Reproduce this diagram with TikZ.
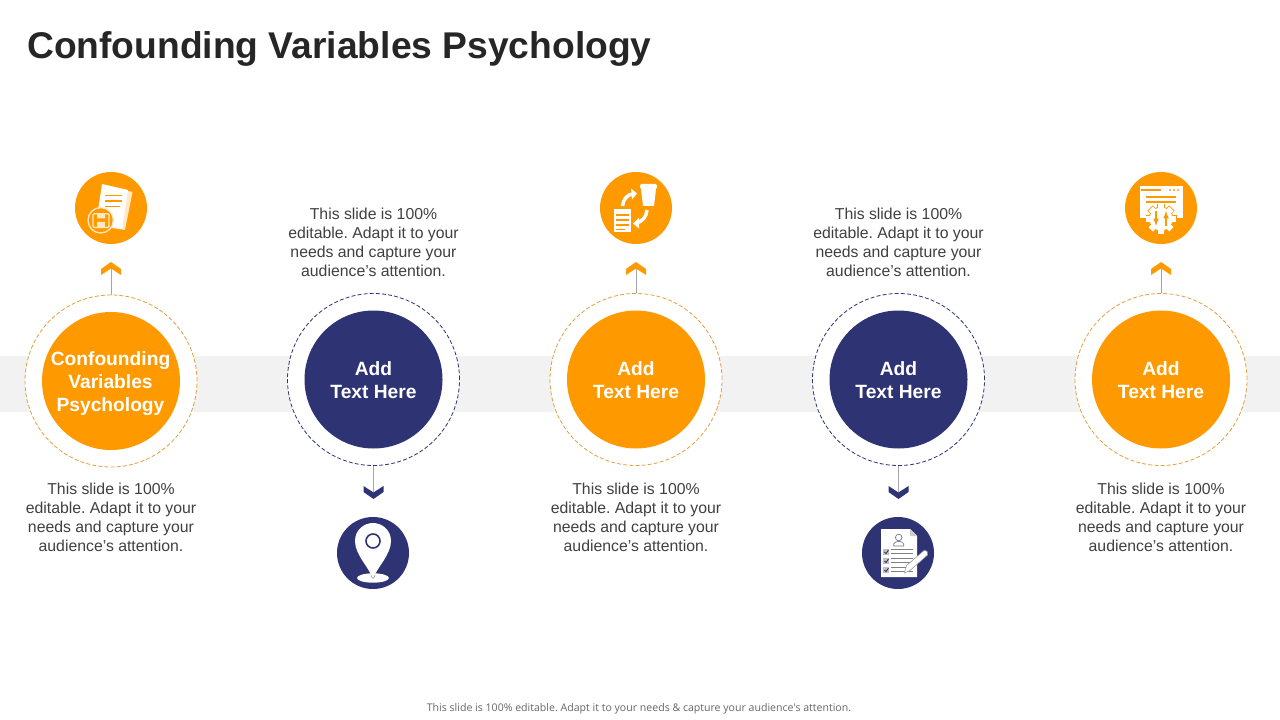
\documentclass[tikz,border=0pt]{standalone}
\usepackage{fontspec}
\setmainfont{Liberation Sans}
\newfontfamily\footfont{Open Sans}
\frenchspacing
\definecolor{org}{HTML}{FF9900}
\definecolor{nav}{HTML}{2E3374}
\definecolor{band}{HTML}{F2F2F2}
\definecolor{txt}{HTML}{404040}
\definecolor{pale}{HTML}{FFE9C4}
\definecolor{dashorg}{HTML}{E0A040}
\tikzset{
  px/.style={x=0.75pt,y=-0.75pt},
  maincirc/.style={circle,minimum size=103.5pt,inner sep=0pt},
  lab/.style={text=white,align=center,inner sep=0pt,font=\fontsize{14.4}{17}\selectfont\bfseries},
  ringorg/.style={circle,minimum size=129pt,inner sep=0pt,fill=white,draw=dashorg,dash pattern=on 3pt off 1.6pt,line width=0.6pt},
  ringnav/.style={circle,minimum size=129pt,inner sep=0pt,fill=white,draw=nav,dash pattern=on 3pt off 1.6pt,line width=0.6pt},
  iconcirc/.style={circle,minimum size=54pt,inner sep=0pt},
  body/.style={text=txt,align=center,font=\fontsize{11.85}{14.25}\selectfont,inner sep=0pt},
  stem/.style={draw=black!35,line width=0.7pt},
}
\newcommand{\chevup}[3]{\fill[#3] (#1,#2) -- ++(10,7) -- ++(0,6) -- ++(-10,-6.5) -- ++(-10,6.5) -- ++(0,-6) -- cycle;}
\newcommand{\chevdown}[3]{\fill[#3] (#1,#2) -- ++(10,-7) -- ++(0,-6) -- ++(-10,6.5) -- ++(-10,-6.5) -- ++(0,6) -- cycle;}
\begin{document}
\begin{tikzpicture}[px]
\useasboundingbox (0,0) rectangle (1280,720);
\fill[white] (0,0) rectangle (1280,720);
\fill[band] (0,356) rectangle (1280,412);
\node[anchor=west,inner sep=0pt,text=black!85,font=\fontsize{27.9}{32}\selectfont\bfseries] (title) at (27,49) {Confounding Variables Psychology};

% rings and circles
\node[ringorg] (r1) at (111,381) {};
\node[ringnav] (r2) at (373.5,379.5) {};
\node[ringorg] (r3) at (636,379.5) {};
\node[ringnav] (r4) at (898.5,379.5) {};
\node[ringorg] (r5) at (1161,379.5) {};
\node[maincirc,fill=org] (c1) at (111,381) {};
\node[maincirc,fill=nav] (c2) at (373.5,379.5) {};
\node[maincirc,fill=org] (c3) at (636,379.5) {};
\node[maincirc,fill=nav] (c4) at (898.5,379.5) {};
\node[maincirc,fill=org] (c5) at (1161,379.5) {};
\node[lab] (l1) at (110.5,383.5) {Confounding\\Variables\\Psychology};
\node[lab] (l2) at (373.5,380) {Add\\Text Here};
\node[lab] (l3) at (636,380) {Add\\Text Here};
\node[lab] (l4) at (898.5,380) {Add\\Text Here};
\node[lab] (l5) at (1161,380) {Add\\Text Here};

% icon discs
\node[iconcirc,fill=org] (i1) at (111,208) {};
\node[iconcirc,fill=nav] (i2) at (373,553) {};
\node[iconcirc,fill=org] (i3) at (636,208) {};
\node[iconcirc,fill=nav] (i4) at (898,553) {};
\node[iconcirc,fill=org] (i5) at (1161,208) {};

% connectors
\coordinate (t1) at (111,268);
\coordinate (t2) at (373.5,492);
\coordinate (t3) at (636,268);
\coordinate (t4) at (898.5,492);
\coordinate (t5) at (1161,268);
\draw[stem] (r1.north) -- (t1);
\draw[stem] (r2.south) -- (t2);
\draw[stem] (r3.north) -- (t3);
\draw[stem] (r4.south) -- (t4);
\draw[stem] (r5.north) -- (t5);
\chevup{111}{262}{org}
\chevup{636}{262}{org}
\chevup{1161}{262}{org}
\chevdown{373.5}{499}{nav}
\chevdown{898.5}{499}{nav}

% texts
\node[body] (b1) at (111,517.5) {This slide is 100\%\\editable. Adapt it to your\\needs and capture your\\audience's attention.};
\node[body] (b2) at (373.5,242.5) {This slide is 100\%\\editable. Adapt it to your\\needs and capture your\\audience's attention.};
\node[body] (b3) at (636,517.5) {This slide is 100\%\\editable. Adapt it to your\\needs and capture your\\audience's attention.};
\node[body] (b4) at (898.5,242.5) {This slide is 100\%\\editable. Adapt it to your\\needs and capture your\\audience's attention.};
\node[body] (b5) at (1161,517.5) {This slide is 100\%\\editable. Adapt it to your\\needs and capture your\\audience's attention.};
\node[text=black!60,inner sep=0pt,font=\footfont\fontsize{7.93}{9}\selectfont] (foot) at (639,708.5) {This slide is 100\% editable. Adapt it to your needs \& capture your audience's attention.};

% icon 1: documents with floppy
\begin{scope}[shift={(111,208)}]
  \fill[pale] (-5,-22) -- (21.5,-16) -- (14,22) -- (-12,18) -- cycle;
  \fill[white] (-9,-24) -- (17,-18) -- (11,21) -- (-15,16) -- cycle;
  \draw[org,line width=0.9pt] (-6,-12.7) -- (11,-12.7) (-6,-7) -- (11,-7) (-6,-1.7) -- (9,-1.7);
  \fill[org,draw=pale,line width=1pt] (-10.3,12.3) circle (12.7);
  \draw[pale,line width=1pt,rounded corners=1pt] (-18,5.7) rectangle (-2,19.5);
  \fill[pale] (-14,5.7) rectangle (-6,10.5) (-14,19.5) rectangle (-6,14);
\end{scope}

% icon 3: cup, document and arrows
\begin{scope}[shift={(636,208)}]
  \fill[white,rounded corners=1pt] (4,-24) rectangle (21,-19);
  \fill[white] (5,-19) -- (20,-19) -- (18,-2) -- (7,-2) -- cycle;
  \fill[white] (-22,1) rectangle (-5,24);
  \draw[org,line width=0.8pt] (-20,7) -- (-7,7) (-20,12) -- (-7,12) (-20,17) -- (-7,17) (-20,21.5) -- (-11,21.5);
  \draw[white,line width=2.6pt] (-13.5,-2) .. controls (-13,-9) and (-8,-14) .. (-3,-14);
  \fill[white] (1,-14.5) -- (-5,-19.5) -- (-4,-8.5) -- cycle;
  \draw[white,line width=2.6pt] (11,2) .. controls (10.5,9) and (6,14) .. (0,15);
  \fill[white] (-3,15.5) -- (3,9.5) -- (3,20.5) -- cycle;
\end{scope}

% icon 5: window with gear
\begin{scope}[shift={(1161,208)}]
  \fill[white] (-21.5,-22) rectangle (21.5,10);
  \draw[org,line width=1pt] (-20,-18) -- (0,-18) (-15,-11) -- (15,-11) (-15,-6) -- (15,-6);
  \fill[org] (9,-18) circle (1.1) (13,-18) circle (1.1) (17,-18) circle (1.1);
  \foreach \a in {0,45,...,315}
    \fill[white,draw=org,line width=0.6pt,shift={(0,11)},rotate=\a] (-3.4,-15) rectangle (3.4,-9);
  \fill[white,draw=org,line width=0.6pt] (0,11) circle (12);
  \foreach \a in {0,45,...,315}
    \fill[white,shift={(0,11)},rotate=\a] (-3,-14.6) rectangle (3,-9);
  \draw[org,line width=0.9pt,-latex] (-5,3) -- (-5,18);
  \draw[org,line width=0.9pt,-latex] (5,18) -- (5,3);
\end{scope}

% icon 2: map pin
\begin{scope}[shift={(373,553)}]
  \fill[white] (0,25) ellipse (16 and 4.7);
  \fill[white] (0,26) .. controls (-4,14) and (-18,2) .. (-18,-12)
     .. controls (-18,-23) and (-9,-30) .. (0,-30)
     .. controls (9,-30) and (18,-23) .. (18,-12)
     .. controls (18,2) and (4,14) .. (0,26) -- cycle;
  \draw[nav,line width=1.2pt] (0,-12) circle (7);
  \draw[black!45,line width=0.4pt] (-2,22) .. controls (-1,26.5) and (1,26.5) .. (2,22);
\end{scope}

% icon 4: form with pencil
\begin{scope}[shift={(898,553)}]
  \fill[white] (-17,-24) -- (12,-24) -- (19,-17) -- (19,24) -- (-17,24) -- cycle;
  \fill[black!20] (12,-24) -- (19,-17) -- (12,-17) -- cycle;
  \draw[nav!70,line width=0.5pt] (0.7,-15.5) circle (3.3);
  \draw[nav!70,line width=0.5pt] (-4.3,-7) -- (-4.3,-9) .. controls (-3,-12.5) and (4.5,-12.5) .. (5.7,-9) -- (5.7,-7) -- cycle;
  \foreach \y in {-1,8,17}{
    \fill[black!25] (-15,\y-2.8) rectangle (-9.3,\y+2.8);
    \draw[nav,line width=0.6pt] (-13.5,\y) -- (-12,\y+1.5) -- (-9.5,\y-2);
    \draw[black!50,line width=0.6pt] (-7,\y-3) -- (15,\y-3) (-7,\y+1.5) -- (15,\y+1.5);
  }
  \fill[white,draw=black!40,line width=0.4pt] (6.5,20) -- (8.5,12.5) -- (26,-2.5) .. controls (29,-3) and (30.5,0) .. (29.5,2) -- (12,17.5) -- cycle;
\end{scope}
\end{tikzpicture}
\end{document}
